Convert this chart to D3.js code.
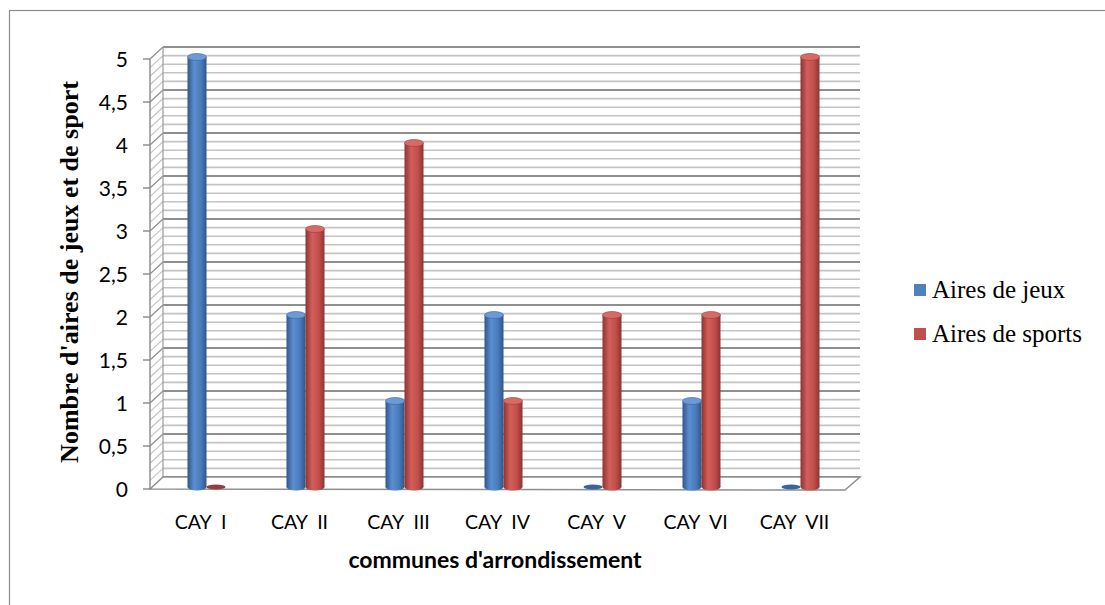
<!DOCTYPE html>
<html>
<head>
<meta charset="utf-8" />
<title>Aires de jeux et de sports par commune</title>
<script src="https://d3js.org/d3.v7.min.js"></script>
<style>
    body { margin: 0; background: #fff; }
    .tick-label { font-family: "Lato", "Open Sans", sans-serif; font-size: 21px; fill: #000; }
    .cat-label { font-family: "Lato", "Open Sans", sans-serif; font-size: 19.5px; fill: #000; }
    .legend-text { font-family: "Liberation Serif", "DejaVu Serif", serif; font-size: 25px; fill: #000; }
</style>
</head>
<body>
<svg id="chart" width="1105" height="605"></svg>
<script>

// data
var categories = ["CAY  I", "CAY  II", "CAY  III", "CAY  IV", "CAY  V", "CAY  VI", "CAY  VII"];
var airesJeux = [5, 2, 1, 2, 0, 1, 0];
var airesSports = [0, 3, 4, 1, 2, 2, 5];
var seriesNames = ["Aires de jeux", "Aires de sports"];
var yTicks = [0, 0.5, 1, 1.5, 2, 2.5, 3, 3.5, 4, 4.5, 5];
var yTickLabels = ["0", "0,5", "1", "1,5", "2", "2,5", "3", "3,5", "4", "4,5", "5"];

var svg = d3.select("#chart");

// outer frame
svg.append("rect")
    .attr("x", 9.5).attr("y", 10.5)
    .attr("width", 1120).attr("height", 620)
    .attr("fill", "none").attr("stroke", "#8c8c8c").attr("stroke-width", 1.2);

// 3d offsets
var depthX = 13, depthY = -12;
var frontX = 150, backX = frontX + depthX, backRight = 860;

// scales: front edge, back wall, bars
var yFront = d3.scaleLinear().domain([0, 5]).range([489, 59]);
var yBack = d3.scaleLinear().domain([0, 5]).range([489 + depthY, 59 + depthY]);
var yBar = d3.scaleLinear().domain([0, 5]).range([487, 57]);

var x = d3.scaleBand().domain(categories).range([157, 850]);

// gridlines every 0.1
var grid = d3.range(0, 51).map(function(i){ return i / 10; });
var gridG = svg.append("g");
grid.forEach(function(v, i){
    var major = (i % 5 === 0);
    var col = major ? "#8f8f8f" : "#c4c4c4";
    // back wall line
    gridG.append("line")
        .attr("x1", backX).attr("x2", backRight)
        .attr("y1", yBack(v)).attr("y2", yBack(v))
        .attr("stroke", col).attr("stroke-width", major ? 2 : 1.6);
    // side wall diagonal
    if (i > 0) {
        gridG.append("line")
            .attr("x1", frontX).attr("x2", backX)
            .attr("y1", yFront(v)).attr("y2", yBack(v))
            .attr("stroke", col).attr("stroke-width", 1.2);
    }
});

// back wall left edge
gridG.append("line")
    .attr("x1", backX).attr("x2", backX)
    .attr("y1", yBack(0)).attr("y2", yBack(5))
    .attr("stroke", "#9a9a9a").attr("stroke-width", 1.2);

// floor
var floorPts = [[frontX, yFront(0)], [backX, yBack(0)], [backRight, yBack(0)], [backRight - depthX - 2, yFront(0) + 1]];
svg.append("path")
    .attr("d", d3.line()(floorPts) + "Z")
    .attr("fill", "#fff").attr("stroke", "#8f8f8f").attr("stroke-width", 1.5);

// front axis line + ticks
svg.append("line")
    .attr("x1", frontX).attr("x2", frontX)
    .attr("y1", yFront(0)).attr("y2", yFront(5))
    .attr("stroke", "#8f8f8f").attr("stroke-width", 1.5);

var tickG = svg.append("g");
yTicks.forEach(function(v, i){
    tickG.append("line")
        .attr("x1", frontX - 7).attr("x2", frontX)
        .attr("y1", yFront(v)).attr("y2", yFront(v))
        .attr("stroke", "#8f8f8f").attr("stroke-width", 1.5);
    tickG.append("text")
        .attr("class", "tick-label")
        .attr("x", 128).attr("y", yFront(v) + 7.5)
        .attr("text-anchor", "end")
        .text(yTickLabels[i]);
});

// gradients for cylinders
var defs = svg.append("defs");
function cylGrad(id, dark, mid, light) {
    var g = defs.append("linearGradient").attr("id", id)
        .attr("x1", "0%").attr("x2", "100%").attr("y1", "0%").attr("y2", "0%");
    g.append("stop").attr("offset", "0%").attr("stop-color", dark);
    g.append("stop").attr("offset", "35%").attr("stop-color", light);
    g.append("stop").attr("offset", "70%").attr("stop-color", mid);
    g.append("stop").attr("offset", "100%").attr("stop-color", dark);
}
cylGrad("gradBlue", "#30558a", "#4a7cbb", "#5b8fd2");
cylGrad("gradRed", "#8c3331", "#c24f4c", "#d35e5a");

var colors = [
    { grad: "url(#gradBlue)", top: "#6b9ad6", base: "#3a649c", legend: "#4f81bd" },
    { grad: "url(#gradRed)", top: "#d86a66", base: "#9c3b39", legend: "#c0504d" }
];

var barW = 19, ry = 3.5;
var series = [airesJeux, airesSports];
var barsG = svg.append("g");

categories.forEach(function(c, ci){
    series.forEach(function(vals, si){
        var v = vals[ci];
        var cx = x(c) + x.bandwidth() / 2 + (si === 0 ? -barW / 2 : barW / 2);
        var yb = yBar(0), yt = yBar(v);
        var g = barsG.append("g");
        if (v > 0) {
            g.append("ellipse")
                .attr("cx", cx).attr("cy", yb)
                .attr("rx", barW / 2).attr("ry", ry)
                .attr("fill", colors[si].grad);
            g.append("rect")
                .attr("x", cx - barW / 2).attr("y", yt)
                .attr("width", barW).attr("height", yb - yt)
                .attr("fill", colors[si].grad);
            g.append("ellipse")
                .attr("cx", cx).attr("cy", yt)
                .attr("rx", barW / 2).attr("ry", ry)
                .attr("fill", colors[si].top)
                .attr("stroke", colors[si].base).attr("stroke-width", 0.6);
        } else {
            g.append("ellipse")
                .attr("cx", cx).attr("cy", yb)
                .attr("rx", barW / 2).attr("ry", 2.5)
                .attr("fill", colors[si].base);
        }
    });
});

// category labels
svg.append("g").selectAll("text")
    .data(categories)
    .enter().append("text")
    .attr("class", "cat-label")
    .attr("x", function(d){ return x(d) + x.bandwidth() / 2 - 6; })
    .attr("y", 529)
    .attr("text-anchor", "middle")
    .attr("xml:space", "preserve")
    .style("white-space", "pre")
    .text(function(d){ return d; });

// axis titles
svg.append("text")
    .attr("x", 495).attr("y", 568)
    .attr("text-anchor", "middle")
    .style("font-family", "'Lato', 'Open Sans', sans-serif")
    .style("font-size", "23px").style("font-weight", "bold")
    .text("communes d'arrondissement");

svg.append("text")
    .attr("transform", "translate(78,272) rotate(-90)")
    .attr("text-anchor", "middle")
    .style("font-family", "'Liberation Serif', 'DejaVu Serif', serif")
    .style("font-size", "26px").style("font-weight", "bold")
    .text("Nombre d'aires de jeux et de sport");

// legend
var legend = svg.append("g");
seriesNames.forEach(function(name, i){
    var ly = 290 + i * 44;
    legend.append("rect")
        .attr("x", 914).attr("y", ly - 6)
        .attr("width", 12).attr("height", 12)
        .attr("fill", colors[i].legend);
    legend.append("text")
        .attr("class", "legend-text")
        .attr("x", 932).attr("y", ly + 8)
        .text(name);
});

</script>
</body>
</html>
